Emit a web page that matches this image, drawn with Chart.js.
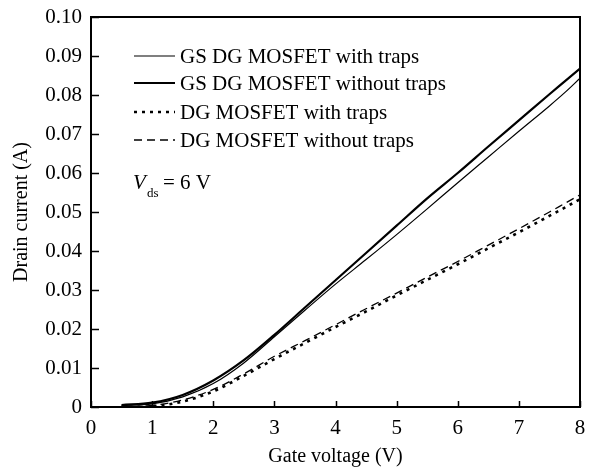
<!DOCTYPE html>
<html>
<head>
<meta charset="utf-8">
<title>Drain current vs gate voltage</title>
<script src="https://cdn.jsdelivr.net/npm/chart.js@4/dist/chart.umd.min.js"></script>
<style>
	html, body { margin: 0; padding: 0; background: #fff; }
	#wrap { width: 589px; height: 471px; position: relative; }
</style>
</head>
<body>
<div id="wrap"><canvas id="lineChart"></canvas></div>
<script>
"use strict";

// gate voltage (V)
var gateVoltage = [0.5, 1, 1.5, 2, 2.5, 3, 3.5, 4, 4.5, 5, 5.5, 6, 6.5, 7, 7.5, 7.75, 8];

// drain current (A)
var gsWithTraps    = [0.0004, 0.0008, 0.0026, 0.0060, 0.0113, 0.0180, 0.0248, 0.0315, 0.0378, 0.0442, 0.0508, 0.0575, 0.0641, 0.0707, 0.0772, 0.0806, 0.0843];
var gsWithoutTraps = [0.0005, 0.0011, 0.0031, 0.0068, 0.0120, 0.0185, 0.0255, 0.0325, 0.0395, 0.0465, 0.0535, 0.0600, 0.0668, 0.0735, 0.0802, 0.0835, 0.0868];
var dgWithTraps    = [0.0000, 0.0002, 0.0014, 0.0040, 0.0080, 0.0123, 0.0164, 0.0205, 0.0245, 0.0286, 0.0326, 0.0366, 0.0407, 0.0448, 0.0490, 0.0511, 0.0533];
var dgWithoutTraps = [0.0000, 0.0004, 0.0018, 0.0045, 0.0085, 0.0130, 0.0170, 0.0211, 0.0252, 0.0292, 0.0333, 0.0373, 0.0415, 0.0457, 0.0500, 0.0522, 0.0544];

var seriesNames = [
	"GS DG MOSFET with traps",
	"GS DG MOSFET without traps",
	"DG MOSFET with traps",
	"DG MOSFET without traps"
];

var xTicks = [0, 1, 2, 3, 4, 5, 6, 7, 8];
var yTicks = [0, 0.01, 0.02, 0.03, 0.04, 0.05, 0.06, 0.07, 0.08, 0.09, 0.10];

var FONT = "'Liberation Serif', 'Times New Roman', serif";

function pts(ys) {
	return gateVoltage.map(function (x, i) { return { x: x, y: ys[i] }; });
}

function line(label, ys, width, dash) {
	return {
		label: label,
		data: pts(ys),
		borderColor: "#000",
		borderWidth: width,
		borderDash: dash,
		borderCapStyle: "butt",
		pointRadius: 0,
		fill: false,
		cubicInterpolationMode: "monotone"
	};
}

// frame, inward ticks, legend and Vds note
var decorations = {
	id: "decorations",
	afterDatasetsDraw: function (chart) {
		var ctx = chart.ctx;
		var a = chart.chartArea;
		var sx = chart.scales.x, sy = chart.scales.y;
		ctx.save();
		ctx.strokeStyle = "#000";
		ctx.lineWidth = 2;
		ctx.setLineDash([]);
		ctx.strokeRect(a.left, a.top, a.right - a.left, a.bottom - a.top);

		ctx.lineWidth = 1.5;
		ctx.beginPath();
		xTicks.forEach(function (v) {
			var px = Math.round(sx.getPixelForValue(v)) + 0.5;
			ctx.moveTo(px, a.bottom);
			ctx.lineTo(px, a.bottom - 6);
		});
		yTicks.forEach(function (v) {
			var py = Math.round(sy.getPixelForValue(v)) + 0.5;
			ctx.moveTo(a.left, py);
			ctx.lineTo(a.left + 8, py);
		});
		ctx.stroke();

		// legend
		var rows = [56, 83, 112, 140];
		ctx.font = "21px " + FONT;
		ctx.fillStyle = "#000";
		ctx.textBaseline = "middle";
		chart.data.datasets.forEach(function (ds, i) {
			ctx.beginPath();
			ctx.lineWidth = ds.borderWidth;
			ctx.setLineDash(ds.borderDash || []);
			ctx.moveTo(134, rows[i]);
			ctx.lineTo(175, rows[i]);
			ctx.stroke();
			ctx.fillText(ds.label, 180, rows[i] + 1);
		});

		// V_ds = 6 V
		ctx.font = "italic 21px " + FONT;
		ctx.fillText("V", 133, 183);
		ctx.font = "13px " + FONT;
		ctx.fillText("ds", 147, 194);
		ctx.font = "21px " + FONT;
		ctx.fillText("= 6 V", 163, 183);
		ctx.restore();
	}
};

function noOverflow(s) {
	s.paddingLeft = 0;
	s.paddingRight = 0;
	s.paddingTop = 0;
	s.paddingBottom = 0;
}

var ctx = document.getElementById("lineChart");
var myChart = new Chart(ctx, {
	type: "line",
	data: {
		datasets: [
			line(seriesNames[0], gsWithTraps, 1.2, []),
			line(seriesNames[1], gsWithoutTraps, 2.2, []),
			line(seriesNames[2], dgWithTraps, 2.6, [3, 5]),
			line(seriesNames[3], dgWithoutTraps, 1.3, [8, 5])
		]
	},
	options: {
		responsive: true,
		maintainAspectRatio: false,
		animation: false,
		layout: { padding: { top: 17, right: 9, left: 0, bottom: 0 } },
		plugins: {
			legend: { display: false },
			tooltip: { enabled: false }
		},
		scales: {
			x: {
				type: "linear",
				min: 0,
				max: 8,
				afterFit: function (s) { s.height = 64; noOverflow(s); },
				afterBuildTicks: function (s) { s.ticks = xTicks.map(function (v) { return { value: v }; }); },
				grid: { display: false, drawTicks: false },
				border: { display: false },
				ticks: {
					color: "#000",
					font: { family: FONT, size: 21 },
					padding: 9,
					maxRotation: 0
				},
				title: {
					display: true,
					text: "Gate voltage (V)",
					color: "#000",
					font: { family: FONT, size: 20 },
					padding: { top: 0, bottom: 2 }
				}
			},
			y: {
				type: "linear",
				min: 0,
				max: 0.1,
				afterFit: function (s) { s.width = 91; noOverflow(s); },
				afterBuildTicks: function (s) { s.ticks = yTicks.map(function (v) { return { value: v }; }); },
				grid: { display: false, drawTicks: false },
				border: { display: false },
				ticks: {
					color: "#000",
					font: { family: FONT, size: 21 },
					padding: 9,
					callback: function (v) { return v === 0 ? "0" : v.toFixed(2); }
				},
				title: {
					display: true,
					text: "Drain current (A)",
					color: "#000",
					font: { family: FONT, size: 20 },
					padding: { top: 10, bottom: 0 }
				}
			}
		}
	},
	plugins: [decorations]
});
</script>
</body>
</html>
